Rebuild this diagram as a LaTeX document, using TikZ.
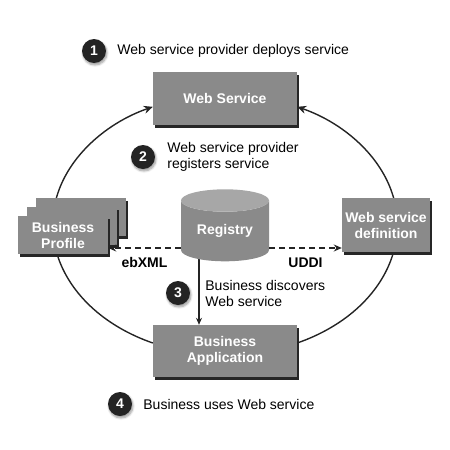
\documentclass[tikz,border=0pt]{standalone}
\usepackage{fontspec}
\setmainfont{Liberation Sans}
\usetikzlibrary{positioning,shapes.geometric,arrows.meta,shadows,shadows.blur}
\definecolor{boxgray}{RGB}{138,138,138}
\definecolor{numgray}{RGB}{36,36,36}
\tikzset{
  box/.style={fill=boxgray, text=white, font=\fontsize{14}{16}\selectfont\bfseries, align=center, inner sep=0pt,
    general shadow={shadow xshift=1.5pt, shadow yshift=-2.5pt, fill=black!85}},
  stepnum/.style={circle, fill=numgray, text=white, font=\fontsize{14}{16}\selectfont\bfseries, minimum size=24pt, inner sep=0pt,
    blur shadow={shadow xshift=1pt, shadow yshift=-2pt, shadow blur steps=6}},
  steptext/.style={font=\fontsize{14}{16}\selectfont, align=left, inner sep=0pt, anchor=west},
  ring/.style={line width=1.4pt, draw=numgray},
  link/.style={line width=1.4pt, draw=numgray, dash pattern=on 6pt off 4pt, -{Stealth[length=8pt,width=7pt]}},
  lbl/.style={font=\fontsize{14}{16}\selectfont\bfseries, inner sep=0pt}
}
\begin{document}
\begin{tikzpicture}[x=1pt, y=-1pt]
  \useasboundingbox (0,0) rectangle (450,450);

  % Boxes of the cycle
  \node[box, minimum width=144pt, minimum height=53pt] (web) at (225,98.5) {Web Service};
  \node[box, minimum width=144pt, minimum height=52pt] (app) at (225,351) {Business\\Application};

  % The cycle round the registry
  \draw[ring, -{Stealth[length=9pt,width=8pt]}] ([yshift=8pt]app.west)
    arc[start angle=245.3, end angle=114.7, x radius=172pt, y radius=130pt];
  \draw[ring, -{Stealth[length=9pt,width=8pt]}] ([yshift=8pt]app.east)
    arc[start angle=-65.3, end angle=65.3, x radius=172pt, y radius=130pt];

  % Profiles (a stack of three)
  \node[box, minimum width=90pt, minimum height=38pt] (prof3) at (81,217) {};
  \node[box, minimum width=90pt, minimum height=38pt] (prof2) at (72,226) {};
  \node[box, minimum width=90pt, minimum height=38pt] (prof) at (63,235) {Business\\Profile};
  \node[box, minimum width=88pt, minimum height=54pt] (def) at (386,225) {Web service\\definition};

  % Registry
  \coordinate (dsc) at (199,0);
  \coordinate (lnk) at (0,248);
  \draw[line width=1.2pt, draw=numgray, -{Stealth[length=7pt,width=6pt]}] (225,255 -| dsc) -- (app.north -| dsc);
  \node[cylinder, shape border rotate=90, aspect=0.4, minimum width=88pt, minimum height=72pt,
    cylinder uses custom fill, cylinder end fill=boxgray!75!white, cylinder body fill=boxgray,
    text=white, font=\fontsize{14}{16}\selectfont\bfseries, inner sep=0pt] (reg) at (225,231) {Registry};

  % Links out of the registry
  \draw[link] (reg.west |- lnk) -- (prof.east |- lnk) node[midway, below=9pt, lbl] {ebXML};
  \draw[link] (reg.east |- lnk) -- (def.west |- lnk) node[midway, below=9pt, lbl] {UDDI};

  % Steps
  \node[stepnum] (s1) at (94,51) {1};
  \node[steptext, right=11pt of s1] (t1) {Web service provider deploys service};
  \node[stepnum] (s2) at (143,157) {2};
  \node[steptext, right=12pt of s2] (t2) {Web service provider\\registers service};
  \node[stepnum] (s3) at (178,293) {3};
  \node[steptext, right=15pt of s3] (t3) {Business discovers\\Web service};
  \node[stepnum] (s4) at (120,404) {4};
  \node[steptext, right=11pt of s4] (t4) {Business uses Web service};
\end{tikzpicture}
\end{document}
